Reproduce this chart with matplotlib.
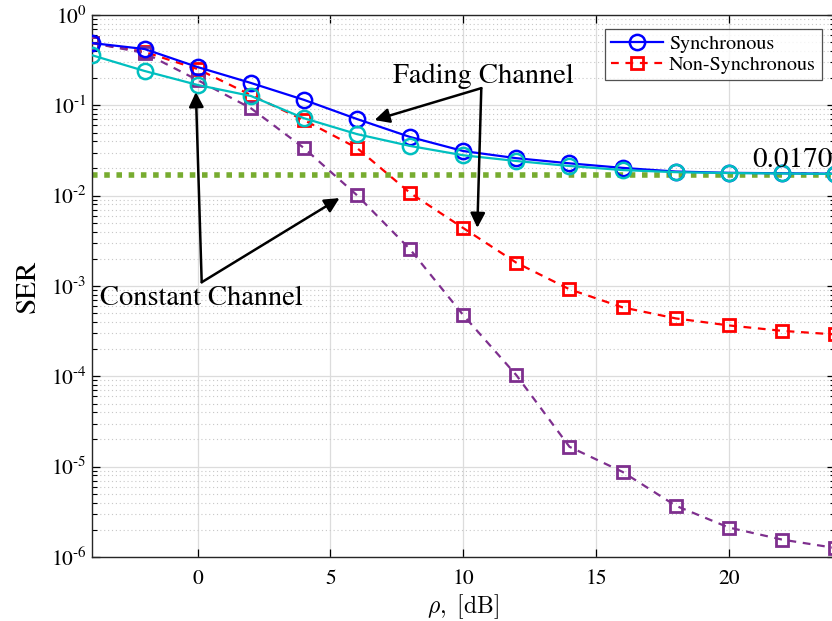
import numpy as np
import matplotlib
matplotlib.use("Agg")
import matplotlib.pyplot as plt
from matplotlib.ticker import FixedLocator, NullFormatter, FuncFormatter

plt.rcParams['font.family'] = ['STIXGeneral', 'DejaVu Serif']
plt.rcParams['mathtext.fontset'] = 'stix'

# SNR grid (dB)
rho_db = [-4, -2, 0, 2, 4, 6, 8, 10, 12, 14, 16, 18, 20, 22, 24]

# Symbol error rates
ser_sync_fading = [0.49, 0.42, 0.265, 0.177, 0.115, 0.0705, 0.0446, 0.0312,
                   0.026, 0.0228, 0.0203, 0.0185, 0.0179, 0.0177, 0.0175]
ser_sync_const = [0.36, 0.24, 0.168, 0.127, 0.072, 0.048, 0.0355, 0.028,
                  0.0242, 0.0213, 0.0192, 0.0182, 0.0178, 0.0176, 0.0174]
ser_nonsync_fading = [0.49, 0.39, 0.252, 0.13, 0.0687, 0.0337, 0.0107, 0.00438,
                      0.00181, 0.00092, 0.00058, 0.000438, 0.000366, 0.000319, 0.000291]
ser_nonsync_const = [0.49, 0.38, 0.19, 0.093, 0.0337, 0.0101, 0.00254, 0.000476,
                     0.000103, 1.66e-5, 8.75e-6, 3.7e-6, 2.12e-6, 1.56e-6, 1.26e-6]
ser_floor = 0.0170

x_ticks = [0, 5, 10, 15, 20]
y_decades = [-6, -5, -4, -3, -2, -1, 0]

fig = plt.figure(figsize=(8.32, 6.21), dpi=100)
ax = fig.add_axes([91.5 / 832, (621 - 557) / 621, (835 - 91.5) / 832, (557 - 15) / 621])

ax.axhline(ser_floor, color='#77AC30', linewidth=4, linestyle=(0, (1, 1.2)), zorder=2)

ax.plot(rho_db, ser_sync_fading, '-o', color='#0000FF', linewidth=1.6,
        markersize=11, markerfacecolor='none', markeredgewidth=1.8,
        label='Synchronous', zorder=4)
ax.plot(rho_db, ser_sync_const, '-o', color='#00BFBF', linewidth=1.6,
        markersize=11, markerfacecolor='none', markeredgewidth=1.8, zorder=4)
ax.plot(rho_db, ser_nonsync_fading, '--s', color='#FF0000', linewidth=1.6,
        markersize=8, markerfacecolor='none', markeredgewidth=2,
        dashes=(3.5, 3), label='Non-Synchronous', zorder=3)
ax.plot(rho_db, ser_nonsync_const, '--s', color='#7E2F8E', linewidth=1.6,
        markersize=8, markerfacecolor='none', markeredgewidth=2,
        dashes=(3.5, 3), zorder=3)

ax.set_yscale('log')
ax.set_xlim(-4, 24)
ax.set_ylim(1e-6, 1)
ax.xaxis.set_major_locator(FixedLocator(x_ticks))
ax.yaxis.set_major_locator(FixedLocator([10.0 ** e for e in y_decades]))
minor_y = [m * 10.0 ** e for e in y_decades[:-1] for m in range(2, 10)]
ax.yaxis.set_minor_locator(FixedLocator(minor_y))
ax.yaxis.set_minor_formatter(NullFormatter())


def fmt_y(v, pos):
    e = int(round(np.log10(v)))
    return r'$10^{%d}$' % e if e == 0 else '$10^{\u2010%d}$' % (-e)


ax.yaxis.set_major_formatter(FuncFormatter(fmt_y))

ax.grid(True, which='major', color='#dcdcdc', linewidth=0.9, linestyle='-')
ax.grid(True, which='minor', axis='y', color='#c8c8c8', linewidth=0.8, linestyle=(0, (1, 2.5)))
ax.set_axisbelow(True)

ax.tick_params(which='both', direction='in', top=True, right=True, labelsize=15.5)
ax.tick_params(axis='x', which='major', pad=9)
ax.tick_params(which='major', length=6, width=0.9)
ax.tick_params(which='minor', length=3.5, width=0.8)
for s in ax.spines.values():
    s.set_linewidth(1.0)
    s.set_color('#262626')

ax.set_xlabel(r'$\rho,\ [\mathrm{dB}]$', fontsize=17, labelpad=2,
              math_fontfamily='cm')
ax.set_ylabel('SER', fontsize=21, labelpad=7)

# Annotations
ax.text(10.75, 0.21, 'Fading Channel', fontsize=20.5, ha='center', va='center', zorder=6)
arrow_kw = dict(arrowstyle='-|>', color='black', linewidth=1.8, mutation_scale=22,
                shrinkA=0, shrinkB=0)
ax.annotate('', xy=(6.66, 0.0687), xytext=(10.68, 0.155), arrowprops=arrow_kw, zorder=6)
ax.annotate('', xy=(10.53, 0.0044), xytext=(10.68, 0.155), arrowprops=arrow_kw, zorder=6)

ax.text(0.15, 0.00072, 'Constant Channel', fontsize=20.5, ha='center', va='center', zorder=6)
ax.annotate('', xy=(-0.07, 0.14), xytext=(0.15, 0.0011), arrowprops=arrow_kw, zorder=6)
ax.annotate('', xy=(5.34, 0.0094), xytext=(0.15, 0.0011), arrowprops=arrow_kw, zorder=6)

ax.text(20.9, 0.0207, '0.0170', fontsize=21, ha='left', va='baseline', zorder=6)

leg = ax.legend(loc='upper right', bbox_to_anchor=(822 / 832, 1 - 29 / 621),
                bbox_transform=fig.transFigure, fontsize=14.5, frameon=True,
                fancybox=False, edgecolor='#262626', handlelength=2.6,
                borderpad=0.3, labelspacing=0.15, handletextpad=0.3, borderaxespad=0)
leg.get_frame().set_linewidth(0.9)

fig.savefig('out.png', dpi=100)
